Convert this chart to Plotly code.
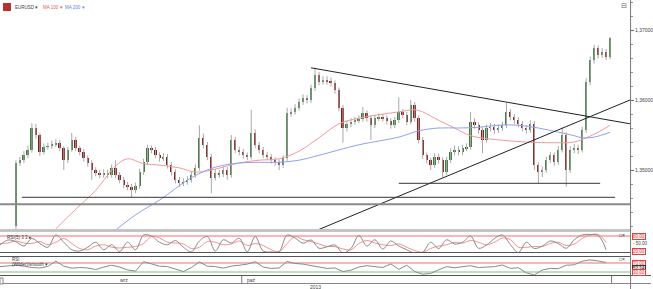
import plotly.graph_objects as go

W, H = 653, 289

# ---------------- DATA ----------------
closes = [1.3510, 1.3514, 1.3521, 1.3529, 1.3560, 1.3550, 1.3526, 1.3533, 1.3534, 1.3537,
          1.3539, 1.3531, 1.3514, 1.3529, 1.3543, 1.3531, 1.3526, 1.3517, 1.3510, 1.3500,
          1.3496, 1.3493, 1.3496, 1.3493, 1.3503, 1.3493, 1.3486, 1.3479, 1.3476, 1.3471,
          1.3477, 1.3497, 1.3511, 1.3531, 1.3529, 1.3521, 1.3517, 1.3519, 1.3507, 1.3497,
          1.3486, 1.3481, 1.3483, 1.3486, 1.3493, 1.3503, 1.3546, 1.3536, 1.3519, 1.3489,
          1.3496, 1.3494, 1.3500, 1.3493, 1.3543, 1.3529, 1.3526, 1.3521, 1.3519, 1.3553,
          1.3536, 1.3529, 1.3521, 1.3519, 1.3514, 1.3511, 1.3507, 1.3517, 1.3581, 1.3583,
          1.3589, 1.3597, 1.3603, 1.3600, 1.3617, 1.3636, 1.3626, 1.3629, 1.3627, 1.3624,
          1.3614, 1.3589, 1.3560, 1.3566, 1.3569, 1.3571, 1.3573, 1.3581, 1.3574, 1.3564,
          1.3574, 1.3576, 1.3574, 1.3570, 1.3564, 1.3571, 1.3583, 1.3579, 1.3569, 1.3593,
          1.3574, 1.3543, 1.3521, 1.3514, 1.3507, 1.3519, 1.3514, 1.3497, 1.3514, 1.3526,
          1.3529, 1.3526, 1.3531, 1.3533, 1.3569, 1.3564, 1.3557, 1.3543, 1.3560, 1.3561,
          1.3557, 1.3560, 1.3564, 1.3583, 1.3576, 1.3571, 1.3566, 1.3560, 1.3557, 1.3566,
          1.3507, 1.3497, 1.3500, 1.3514, 1.3521, 1.3511, 1.3529, 1.3550, 1.3500, 1.3529,
          1.3531, 1.3529, 1.3557, 1.3626, 1.3657, 1.3674, 1.3664, 1.3669, 1.3661, 1.3689]
first_open = 1.3420

highs = [1.3514, 1.3519, 1.3527, 1.3535, 1.3567, 1.3566, 1.3553, 1.3538, 1.3539, 1.3542,
         1.3544, 1.3543, 1.3534, 1.3533, 1.3553, 1.3547, 1.3535, 1.3530, 1.3521, 1.3514,
         1.3504, 1.3500, 1.3501, 1.3500, 1.3508, 1.3514, 1.3497, 1.3490, 1.3483, 1.3480,
         1.3482, 1.3502, 1.3516, 1.3536, 1.3535, 1.3533, 1.3525, 1.3524, 1.3523, 1.3511,
         1.3501, 1.3490, 1.3488, 1.3491, 1.3498, 1.3508, 1.3564, 1.3552, 1.3540, 1.3523,
         1.3501, 1.3500, 1.3505, 1.3504, 1.3550, 1.3547, 1.3533, 1.3530, 1.3525, 1.3586,
         1.3558, 1.3540, 1.3533, 1.3526, 1.3523, 1.3518, 1.3515, 1.3521, 1.3589, 1.3588,
         1.3594, 1.3602, 1.3608, 1.3607, 1.3622, 1.3646, 1.3640, 1.3634, 1.3634, 1.3632,
         1.3628, 1.3618, 1.3593, 1.3571, 1.3574, 1.3576, 1.3578, 1.3590, 1.3585, 1.3578,
         1.3579, 1.3581, 1.3580, 1.3578, 1.3574, 1.3576, 1.3604, 1.3587, 1.3583, 1.3600,
         1.3597, 1.3578, 1.3547, 1.3525, 1.3518, 1.3524, 1.3523, 1.3518, 1.3519, 1.3531,
         1.3535, 1.3534, 1.3536, 1.3538, 1.3583, 1.3574, 1.3568, 1.3561, 1.3565, 1.3567,
         1.3566, 1.3565, 1.3569, 1.3596, 1.3587, 1.3580, 1.3575, 1.3570, 1.3564, 1.3571,
         1.3570, 1.3511, 1.3505, 1.3519, 1.3526, 1.3525, 1.3534, 1.3561, 1.3554, 1.3534,
         1.3537, 1.3536, 1.3562, 1.3631, 1.3662, 1.3679, 1.3678, 1.3674, 1.3673, 1.3690]

lows = [1.3415, 1.3506, 1.3510, 1.3517, 1.3525, 1.3545, 1.3520, 1.3522, 1.3529, 1.3530,
        1.3533, 1.3527, 1.3500, 1.3510, 1.3526, 1.3527, 1.3521, 1.3512, 1.3505, 1.3486,
        1.3491, 1.3488, 1.3489, 1.3488, 1.3489, 1.3488, 1.3481, 1.3474, 1.3471, 1.3461,
        1.3467, 1.3473, 1.3493, 1.3507, 1.3524, 1.3517, 1.3512, 1.3513, 1.3502, 1.3492,
        1.3481, 1.3476, 1.3477, 1.3479, 1.3482, 1.3489, 1.3499, 1.3531, 1.3514, 1.3467,
        1.3485, 1.3489, 1.3490, 1.3486, 1.3489, 1.3524, 1.3521, 1.3516, 1.3514, 1.3515,
        1.3531, 1.3524, 1.3517, 1.3514, 1.3509, 1.3506, 1.3500, 1.3503, 1.3513, 1.3576,
        1.3579, 1.3585, 1.3593, 1.3595, 1.3596, 1.3613, 1.3621, 1.3622, 1.3622, 1.3619,
        1.3609, 1.3584, 1.3539, 1.3555, 1.3561, 1.3565, 1.3567, 1.3569, 1.3569, 1.3543,
        1.3560, 1.3570, 1.3569, 1.3565, 1.3559, 1.3560, 1.3567, 1.3574, 1.3564, 1.3565,
        1.3569, 1.3538, 1.3516, 1.3509, 1.3500, 1.3503, 1.3509, 1.3490, 1.3493, 1.3510,
        1.3521, 1.3521, 1.3521, 1.3527, 1.3529, 1.3559, 1.3552, 1.3524, 1.3539, 1.3555,
        1.3552, 1.3553, 1.3556, 1.3560, 1.3571, 1.3566, 1.3561, 1.3555, 1.3552, 1.3553,
        1.3500, 1.3481, 1.3490, 1.3496, 1.3510, 1.3506, 1.3507, 1.3525, 1.3476, 1.3496,
        1.3524, 1.3523, 1.3525, 1.3553, 1.3621, 1.3652, 1.3659, 1.3660, 1.3657, 1.3658]

opens = [first_open] + closes[:-1]
bar_idx = list(range(len(closes)))

ma100_idx = [10, 15, 20, 25, 28, 32, 36, 41, 45, 49, 56, 61, 66, 71, 76, 81, 86, 91, 96,
             100, 102, 106, 110, 114, 121, 128, 135, 140, 143, 146, 149]
ma100_val = [1.3416, 1.3444, 1.3471, 1.3506, 1.3516, 1.3509, 1.3507, 1.3503, 1.3497, 1.3500,
             1.3510, 1.3514, 1.3516, 1.3527, 1.3546, 1.3566, 1.3574, 1.3579, 1.3583,
             1.3586, 1.3583, 1.3571, 1.3560, 1.3549, 1.3543, 1.3540, 1.3539, 1.3540, 1.3546,
             1.3554, 1.3564]
ma200_idx = [25, 30, 36, 44, 50, 56, 61, 66, 71, 76, 86, 96, 101, 106, 111, 116, 121, 126,
             131, 136, 140, 142, 145, 149]
ma200_val = [1.3414, 1.3436, 1.3457, 1.3489, 1.3504, 1.3510, 1.3511, 1.3511, 1.3514, 1.3521,
             1.3536, 1.3547, 1.3556, 1.3560, 1.3560, 1.3561, 1.3564, 1.3564, 1.3560, 1.3554,
             1.3549, 1.3546, 1.3547, 1.3554]

# drawn trend / support lines (bar index, price)
trend_down_x = [74, 154]
trend_down_y = [1.3646, 1.3566]
trend_up_x = [73, 154]
trend_up_y = [1.3408, 1.3600]
support1_x = [96, 146.5]
support1_y = [1.3481, 1.3481]
support2_x = [1.5, 150.25]
support2_y = [1.3461, 1.3461]
support3_x = [-4, 154]
support3_y = [1.3451, 1.3451]

price_ticks = [1.35, 1.36, 1.37]

osc_idx = list(range(-4, 150, 2))
stoch_k = [44, 64, 57, 40, 70, 50, 35, 84, 55, 25,
           20, 35, 55, 25, 45, 18, 55, 25, 84, 80,
           55, 45, 62, 35, 17, 60, 78, 20, 65, 52,
           71, 17, 78, 20, 16, 18, 84, 72, 51, 64,
           31, 37, 44, 12, 30, 82, 40, 65, 28, 60,
           40, 25, 12, 15, 55, 30, 65, 48, 55, 80,
           31, 44, 70, 84, 45, 14, 55, 30, 40, 60,
           50, 31, 65, 84, 86, 82, 25]
stoch_d = [50, 52, 60, 52, 50, 58, 45, 55, 70, 50,
           30, 25, 40, 45, 35, 32, 35, 38, 50, 78,
           72, 55, 52, 48, 30, 35, 58, 55, 45, 48,
           60, 42, 50, 42, 25, 17, 50, 78, 65, 58,
           48, 38, 38, 28, 25, 50, 62, 52, 45, 42,
           48, 35, 22, 15, 30, 40, 45, 55, 52, 62,
           55, 45, 55, 72, 65, 35, 35, 38, 38, 50,
           55, 42, 48, 70, 84, 86, 55]
rsi = [54, 56, 60, 56, 50, 48, 55, 78, 56, 47,
       50, 48, 41, 52, 60, 52, 39, 34, 76, 66,
       56, 54, 42, 32, 50, 75, 56, 54, 47, 56,
       60, 65, 76, 52, 46, 48, 77, 68, 65, 58,
       50, 46, 48, 32, 38, 52, 58, 55, 50, 66,
       42, 60, 32, 20, 24, 40, 54, 49, 54, 58,
       50, 52, 54, 61, 46, 49, 26, 17, 39, 46,
       45, 60, 62, 78, 84, 79, 72]

stoch_levels = [80, 20]
rsi_levels = [70, 30]
time_labels = ["wrz", "paź", "2013"]
time_label_idx = [25.5, 57.5, 75]

# ---------------- helpers for pixel layout ----------------
def px(x):
    return x / W

def py(y):
    return 1 - y / H

X0, X1 = -4, 154
AXIS_X = 632
FONT = "Liberation Sans, Arial, sans-serif"

fig = go.Figure()

# wicks
wx, wy = [], []
for i, h, l in zip(bar_idx, highs, lows):
    wx += [i, i, None]
    wy += [l, h, None]
fig.add_trace(go.Scatter(x=wx, y=wy, mode="lines", line=dict(color="#a8a8a8", width=1),
                         hoverinfo="skip", xaxis="x", yaxis="y"))
# bodies
base = [min(o, c) for o, c in zip(opens, closes)]
hgt = [max(abs(c - o), 0.00006) for o, c in zip(opens, closes)]
cols = ["#3e7d3e" if c >= o else "#8e1b1b" for o, c in zip(opens, closes)]
fig.add_trace(go.Bar(x=bar_idx, y=hgt, base=base, width=0.5, marker=dict(color=cols, line=dict(width=0)),
                     xaxis="x", yaxis="y", hoverinfo="skip"))

# moving averages
fig.add_trace(go.Scatter(x=ma100_idx, y=ma100_val, mode="lines", line=dict(color="#f39a9a", width=1, shape="spline"),
                         xaxis="x", yaxis="y"))
fig.add_trace(go.Scatter(x=ma200_idx, y=ma200_val, mode="lines", line=dict(color="#8fa2f0", width=1, shape="spline"),
                         xaxis="x", yaxis="y"))

# drawn lines
for lx, ly, col, wd in [(trend_down_x, trend_down_y, "#222222", 1),
                        (trend_up_x, trend_up_y, "#222222", 1),
                        (support1_x, support1_y, "#333333", 1),
                        (support2_x, support2_y, "#333333", 1),
                        (support3_x, support3_y, "#8a8a8a", 2)]:
    fig.add_trace(go.Scatter(x=lx, y=ly, mode="lines", line=dict(color=col, width=wd),
                             xaxis="x", yaxis="y", hoverinfo="skip"))

# stochastic panel
fig.add_trace(go.Scatter(x=[X0, X1], y=[stoch_levels[0]] * 2, mode="lines",
                         line=dict(color="#f07070", width=1), xaxis="x", yaxis="y2"))
fig.add_trace(go.Scatter(x=osc_idx, y=stoch_d, mode="lines", line=dict(color="#f39090", width=1, shape="spline"),
                         xaxis="x", yaxis="y2"))
fig.add_trace(go.Scatter(x=osc_idx, y=stoch_k, mode="lines", line=dict(color="#8a8a8a", width=1, shape="spline"),
                         xaxis="x", yaxis="y2"))

# rsi panel
fig.add_trace(go.Scatter(x=[X0, X1], y=[rsi_levels[0]] * 2, mode="lines",
                         line=dict(color="#f07070", width=1), xaxis="x", yaxis="y3"))
fig.add_trace(go.Scatter(x=[X0, X1], y=[rsi_levels[1]] * 2, mode="lines",
                         line=dict(color="#7cc07c", width=1), xaxis="x", yaxis="y3"))
fig.add_trace(go.Scatter(x=osc_idx, y=rsi, mode="lines", line=dict(color="#8a8a8a", width=1),
                         xaxis="x", yaxis="y3"))

shapes = []
def hline(y, x0, x1, color, width=1):
    shapes.append(dict(type="line", xref="paper", yref="paper", x0=px(x0), x1=px(x1),
                       y0=py(y), y1=py(y), line=dict(color=color, width=width)))
def vline(x, y0, y1, color, width=1):
    shapes.append(dict(type="line", xref="paper", yref="paper", x0=px(x), x1=px(x),
                       y0=py(y0), y1=py(y1), line=dict(color=color, width=width)))

hline(230.5, 0, AXIS_X, "#c4c4c4", 3)
hline(252.5, 0, AXIS_X, "#555555", 1)
hline(256.5, 0, AXIS_X, "#555555", 1)
hline(275.5, 0, 653, "#555555", 1)
hline(283.5, 0, 653, "#888888", 1)
vline(AXIS_X + 0.5, 0, 289, "#777777", 1)
vline(242.5, 276, 283, "#777777", 1)
vline(613.5, 276, 283, "#777777", 1)
# legend icon
shapes.append(dict(type="rect", xref="paper", yref="paper", x0=px(3), x1=px(11), y0=py(11), y1=py(3),
                   fillcolor="#b53030", line=dict(width=0)))
shapes.append(dict(type="rect", xref="paper", yref="paper", x0=px(0), x1=px(3), y0=py(284), y1=py(278),
                   fillcolor="#ffffff", line=dict(color="#888", width=1)))

ann = []
def text(x, y, s, color="#333333", size=6, xanchor="left"):
    ann.append(dict(x=px(x), y=py(y), xref="paper", yref="paper", text=s, showarrow=False,
                    xanchor=xanchor, yanchor="middle", font=dict(size=size, color=color, family=FONT)))

text(13, 7, "EURUSD ▾", "#444444", 4.5)
text(41, 7, "MA 100 ▾", "#e85a5a", 4.5)
text(63, 7, "MA 200 ▾", "#5f7ee8", 4.5)
text(5, 237, "RSI(5) 3 3 ▸", "#333333", 4.5)
text(10, 259, "RSI", "#333333", 4.5)
text(10, 264, "(Wilder)/smooth ▾", "#333333", 4.5)
text(621, 6, "⊟", "#666666", 7)
text(619, 235, "□×", "#333333", 5)
text(619, 259, "□×", "#333333", 5)
text(633, 244, "- 50,00", "#444444", 4.5)

def box(y, s, color="#e04040", bg="#fff0f0"):
    ann.append(dict(x=px(634), y=py(y), xref="paper", yref="paper", text=s, showarrow=False,
                    xanchor="left", yanchor="middle", bordercolor=color, borderwidth=1, borderpad=0,
                    bgcolor=bg, font=dict(size=4.5, color=color, family=FONT)))
box(236, "80,00")
box(251, "20,00")
box(263, "70,00")
box(268, "52,14", "#333333", "#dddddd")
box(272, "30,00")

for lab, xi, yy in zip(time_labels, time_label_idx, [280, 280, 287]):
    ann.append(dict(x=xi, y=py(yy), xref="x", yref="paper", text=lab, showarrow=False,
                    xanchor="left" if lab != "2013" else "center", yanchor="middle",
                    font=dict(size=5, color="#444444", family=FONT)))

fig.update_layout(
    width=W, height=H, margin=dict(l=0, r=0, t=0, b=0),
    paper_bgcolor="white", plot_bgcolor="white", showlegend=False,
    separators=", ", barmode="overlay", bargap=0,
    xaxis=dict(domain=[0, AXIS_X / W], range=[X0, X1], showticklabels=False, showgrid=False,
               zeroline=False, showline=False, ticks=""),
    yaxis=dict(domain=[py(229), 1], range=[1.37 - 199 / 7000, 1.37 + 30 / 7000], side="right",
               anchor="x", tickvals=price_ticks, tickformat=".5f", showgrid=False, zeroline=False,
               ticks="outside", ticklen=3, tickcolor="#666666",
               tickfont=dict(size=5, color="#444444", family=FONT),
               minor=dict(dtick=0.002, ticks="outside", ticklen=2, tickcolor="#999999")),
    yaxis2=dict(domain=[py(252), py(231)], range=[16, 100], anchor="x", showticklabels=False,
                showgrid=False, zeroline=False),
    yaxis3=dict(domain=[py(275), py(257)], range=[16.7, 96.7], anchor="x", showticklabels=False,
                showgrid=False, zeroline=False),
    shapes=shapes, annotations=ann,
)

fig.write_html("out.html", config=dict(displayModeBar=False))
